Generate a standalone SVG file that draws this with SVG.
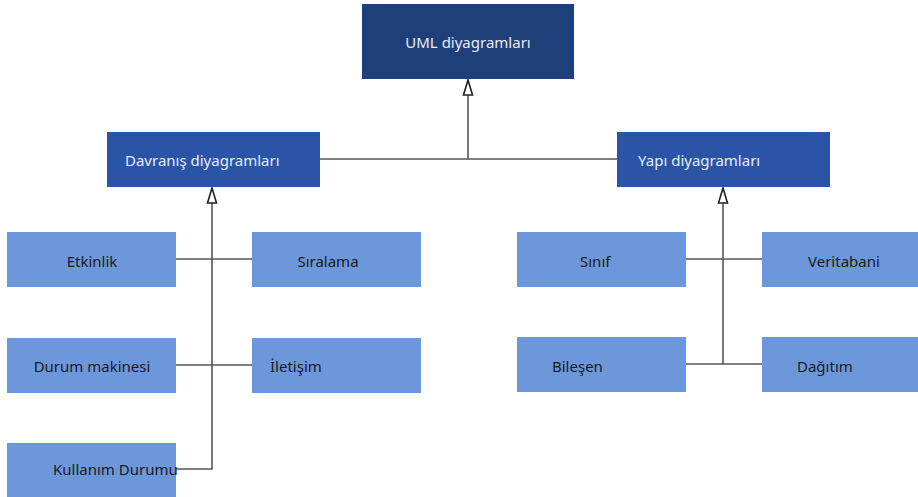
<svg xmlns="http://www.w3.org/2000/svg" width="918" height="497" viewBox="0 0 918 497">
<style>
.dark{fill:#1F3F7B}
.mid{fill:#2A55A6}
.light{fill:#6D97DB}
text{font-family:"Noto Sans","Open Sans",sans-serif;font-size:15px}
.wt{fill:#E6ECF6}
.bt{fill:#1A1A1A}
.c{fill:none;stroke:#555;stroke-width:1.6}
</style>
<defs>
<marker id="tri" viewBox="0 0 18 12" refX="17" refY="6" markerWidth="18" markerHeight="12" markerUnits="userSpaceOnUse" orient="auto">
<path d="M17 6 L2 1.5 L2 10.5 Z" fill="#fff" stroke="#222" stroke-width="1.6"/>
</marker>
</defs>
<rect width="918" height="497" fill="#fff"/>
<g id="connectors">
<path class="c" d="M320 159 H617"/>
<path class="c" d="M468 159 V80" marker-end="url(#tri)"/>
<path class="c" d="M176 469 H212 V188" marker-end="url(#tri)"/>
<path class="c" d="M176 259 H252"/>
<path class="c" d="M176 365 H252"/>
<path class="c" d="M723 364 V188" marker-end="url(#tri)"/>
<path class="c" d="M686 259 H762"/>
<path class="c" d="M686 364 H762"/>
</g>
<g id="uml"><rect class="dark" x="362" y="4" width="212" height="75"/><text class="wt" x="468" y="48" text-anchor="middle">UML diyagramları</text></g>
<g id="davranis"><rect class="mid" x="107" y="132" width="213" height="55"/><text class="wt" x="125" y="166">Davranış diyagramları</text></g>
<g id="yapi"><rect class="mid" x="617" y="132" width="213" height="55"/><text class="wt" x="638" y="166">Yapı diyagramları</text></g>
<g id="etkinlik"><rect class="light" x="7" y="232" width="169" height="55"/><text class="bt" x="92" y="267" text-anchor="middle">Etkinlik</text></g>
<g id="siralama"><rect class="light" x="252" y="232" width="169" height="55"/><text class="bt" x="328" y="267" text-anchor="middle">Sıralama</text></g>
<g id="durum"><rect class="light" x="7" y="338" width="169" height="55"/><text class="bt" x="92" y="372" text-anchor="middle">Durum makinesi</text></g>
<g id="iletisim"><rect class="light" x="252" y="338" width="169" height="55"/><text class="bt" x="270" y="372">İletişim</text></g>
<g id="kullanim"><rect class="light" x="7" y="443" width="169" height="60"/><text class="bt" x="53" y="475">Kullanım Durumu</text></g>
<g id="sinif"><rect class="light" x="517" y="232" width="169" height="55"/><text class="bt" x="580" y="267">Sınıf</text></g>
<g id="veritabani"><rect class="light" x="762" y="232" width="160" height="55"/><text class="bt" x="808" y="267">Veritabani</text></g>
<g id="bilesen"><rect class="light" x="517" y="337" width="169" height="55"/><text class="bt" x="552" y="372">Bileşen</text></g>
<g id="dagitim"><rect class="light" x="762" y="337" width="160" height="55"/><text class="bt" x="797" y="372">Dağıtım</text></g>
</svg>
